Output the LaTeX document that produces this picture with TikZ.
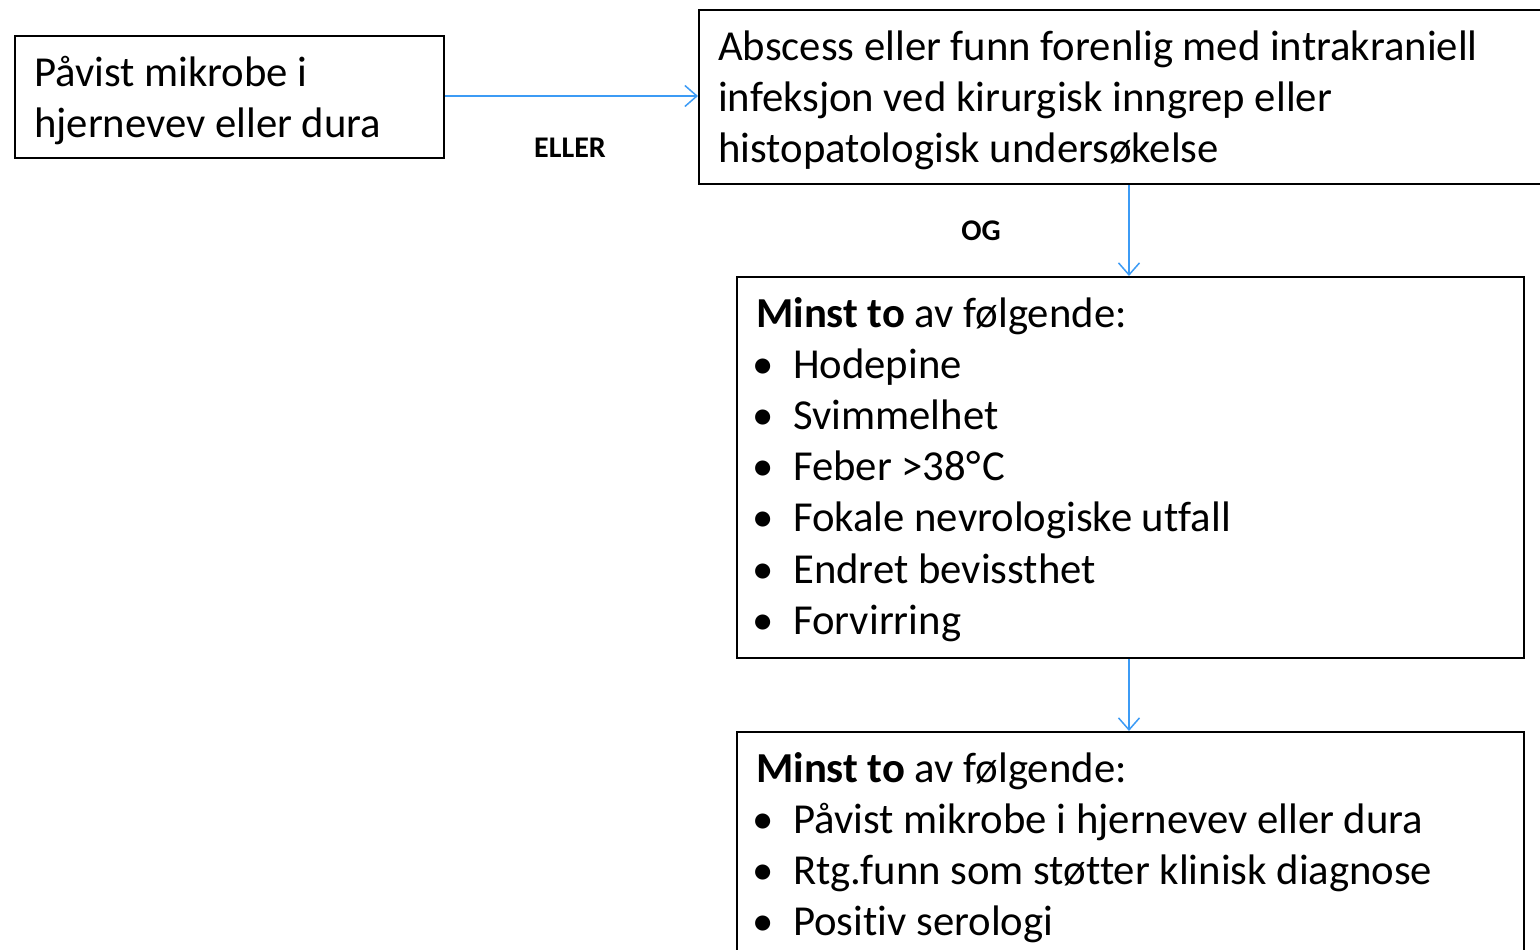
\documentclass[tikz,border=0pt]{standalone}
\usepackage{fontspec}
\setmainfont{Carlito}[Ligatures=NoCommon]
\usetikzlibrary{arrows.meta}
\definecolor{arrowblue}{RGB}{60,155,245}
\tikzset{
  box/.style={draw=black,line width=1.8pt,rectangle,inner sep=0pt},
  txt/.style={anchor=base west,inner sep=0pt,font=\fontsize{42.7}{51}\selectfont},
  bul/.style={anchor=base,inner sep=0pt,font=\fontsize{42.7}{51}\selectfont},
  lbl/.style={anchor=base,inner sep=0pt,font=\fontsize{30}{36}\selectfont\bfseries},
  conn/.style={draw=arrowblue,line width=1.5pt,-{Straight Barb[length=12pt,width=21pt,line width=1.5pt]}}
}
\begin{document}
\begin{tikzpicture}[x=1pt,y=-1pt]
\useasboundingbox (0,0) rectangle (1540,950);
\clip (0,0) rectangle (1540,950);
% boxes
\node[box,minimum width=429pt,minimum height=122pt,anchor=north west] (A) at (14,35) {};
\node[box,minimum width=880pt,minimum height=174pt,anchor=north west] (B) at (698,9) {};
\node[box,minimum width=787pt,minimum height=381pt,anchor=north west] (C) at (736,276) {};
\node[box,minimum width=787pt,minimum height=260pt,anchor=north west] (D) at (736,731) {};
% connectors
\coordinate (ab) at (443,96);
\draw[conn] (A.east |- ab) -- (B.west |- ab);
\draw[conn] (B.south -| 1129,0) -- (C.north -| 1129,0);
\draw[conn] (C.south -| 1129,0) -- (D.north -| 1129,0);
\node[lbl] (eller) at (570,157) {ELLER};
\node[lbl] (og) at (981,240) {OG};
% box A text
\node[txt] (a1) at (34,86) {Påvist mikrobe i};
\node[txt] (a2) at (34,137) {hjernevev eller dura};
% box B text
\node[txt] (b1) at (718,60) {Abscess eller funn forenlig med intrakraniell};
\node[txt] (b2) at (718,111) {infeksjon ved kirurgisk inngrep eller};
\node[txt] (b3) at (718,162) {histopatologisk undersøkelse};
% box C text
\node[txt] (c0) at (756,327) {\textbf{Minst to} av følgende:};
\foreach \t [count=\i from 0] in {Hodepine,Svimmelhet,Feber >38°\kern2pt C,Fokale nevrologiske utfall,Endret bevissthet,Forvirring}{
  \node[bul] (cb\i) at (763,378+51.3*\i) {•};
  \node[txt] (ct\i) at (793,378+51.3*\i) {\t};
}
% box D text
\node[txt] (d0) at (756,782) {\textbf{Minst to} av følgende:};
\foreach \t [count=\i from 0] in {Påvist mikrobe i hjernevev eller dura,Rtg.funn som støtter klinisk diagnose,Positiv serologi}{
  \node[bul] (db\i) at (763,833+51*\i) {•};
  \node[txt] (dt\i) at (793,833+51*\i) {\t};
}
\end{tikzpicture}
\end{document}
